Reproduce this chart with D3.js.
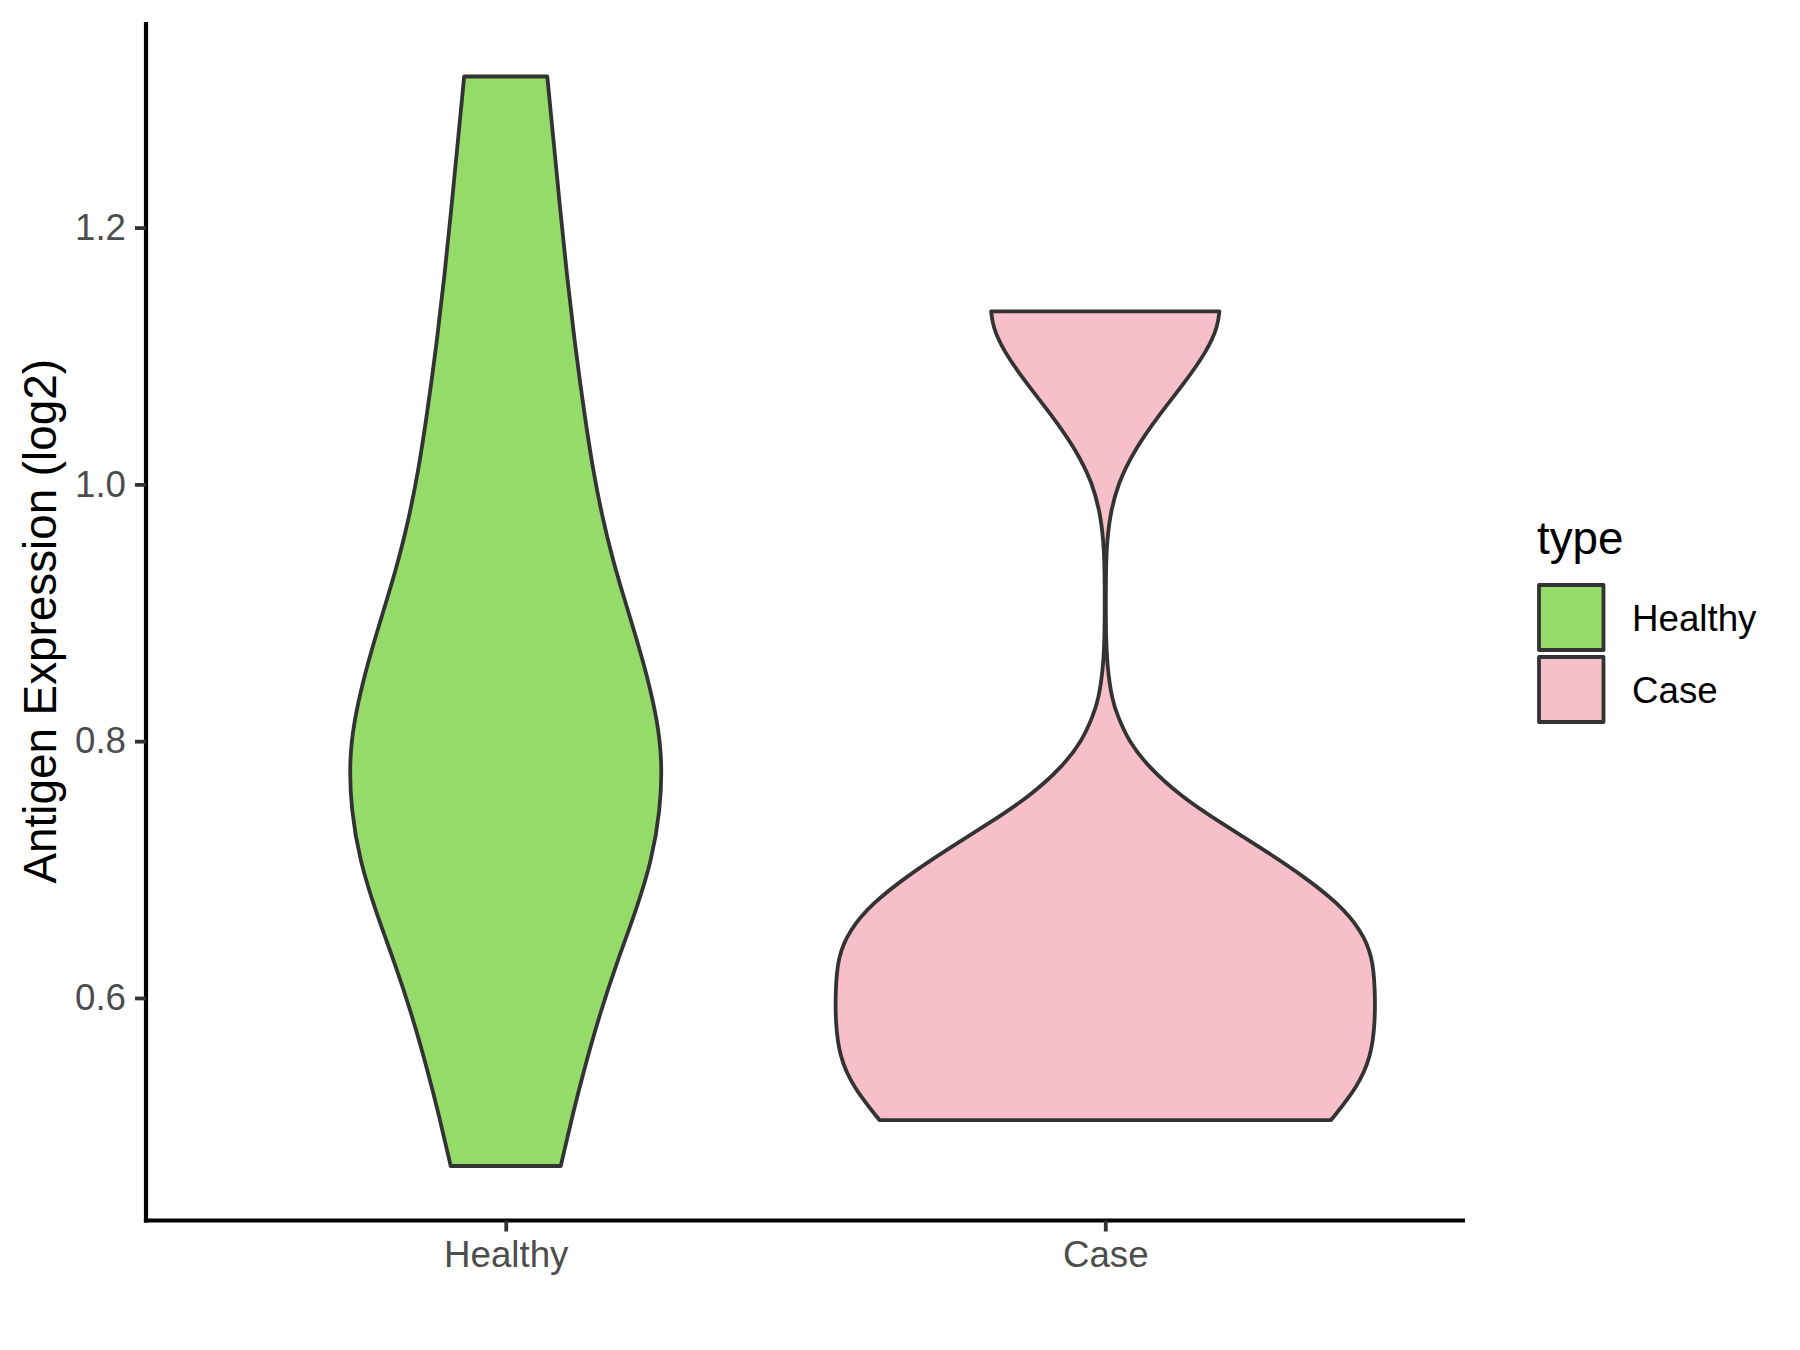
<!DOCTYPE html>
<html>
<head>
<meta charset="utf-8">
<script src="https://cdn.jsdelivr.net/npm/d3@7"></script>
<style>
  html, body { margin: 0; padding: 0; background: #ffffff; }
  svg { display: block; }
</style>
</head>
<body>
<svg id="chart" width="1800" height="1350"></svg>
<script>
// ---- Data ----
const categories = ["Healthy", "Case"];
const fillColors = ["#94DB6A", "#F7BFCA"];
const yTicks = [0.6, 0.8, 1.0, 1.2];

// Healthy violin profile: expression values and scaled density (violin width, 0-1)
const healthyValues = [1.3177, 1.2616, 1.2140, 1.1642, 1.1080, 1.0527, 1.0106, 0.9755, 0.9428, 0.9133, 0.8797,
  0.8485, 0.8160, 0.7849, 0.7460, 0.7070, 0.6668, 0.6282, 0.5892, 0.5448, 0.5083, 0.4691];
const healthyDensity = [0.154, 0.180, 0.202, 0.226, 0.257, 0.293, 0.324, 0.357, 0.395, 0.436, 0.485,
  0.527, 0.562, 0.580, 0.573, 0.541, 0.481, 0.413, 0.351, 0.291, 0.247, 0.204];

// Case violin profile
const caseValues = [1.1348, 1.1231, 1.1049, 1.0790, 1.0530, 1.0270, 1.0011, 0.9750, 0.9491, 0.9234, 0.8844,
  0.8581, 0.8322, 0.8192, 0.8010, 0.7802, 0.7569, 0.7361, 0.7153, 0.6945, 0.6738, 0.6530, 0.6322, 0.6062,
  0.5805, 0.5542, 0.5309, 0.5049];
const caseDensity = [0.423, 0.417, 0.380, 0.294, 0.195, 0.109, 0.047, 0.016, 0.004, 0.002, 0.002,
  0.007, 0.025, 0.047, 0.084, 0.158, 0.281, 0.430, 0.589, 0.737, 0.863, 0.948, 0.991, 1.000,
  1.000, 0.985, 0.936, 0.837];

const yTitle = "Antigen Expression (log2)";
const legendTitle = "type";

// ---- Layout ----
const FONT = "'Liberation Sans', Arial, Helvetica, sans-serif";
const panel = { left: 146, right: 1465, top: 22, bottom: 1220.5 };

const svg = d3.select("#chart");
svg.append("rect").attr("width", 1800).attr("height", 1350).attr("fill", "#ffffff");

const violins = [
  { name: categories[0], values: healthyValues, density: healthyDensity, fill: fillColors[0] },
  { name: categories[1], values: caseValues, density: caseDensity, fill: fillColors[1] }
];

// y domain: data range with 5% expansion (ggplot default)
const allVals = healthyValues.concat(caseValues);
const [vmin, vmax] = d3.extent(allVals);
const pad = (vmax - vmin) * 0.05;
const y = d3.scaleLinear().domain([vmin - pad, vmax + pad]).range([panel.bottom, panel.top]);

const x = d3.scalePoint().domain(categories).range([panel.left, panel.right]).padding(0.6);
const w = d3.scaleLinear().domain([0, 1]).range([0, x.step() * 0.45]);

// ---- Violins ----
violins.forEach(v => {
  const pts = v.values.map((val, i) => ({ val, d: v.density[i] }));
  const cx = x(v.name);
  const area = d3.area()
    .curve(d3.curveBasis)
    .y(p => y(p.val))
    .x0(p => cx - w(p.d))
    .x1(p => cx + w(p.d));
  svg.append("path")
    .datum(pts)
    .attr("d", area)
    .attr("fill", v.fill)
    .attr("stroke", "#333333")
    .attr("stroke-width", 3.8)
    .attr("stroke-linejoin", "round");
});

// ---- Axes ----
const yAxis = svg.append("g")
  .attr("transform", `translate(${panel.left},0)`)
  .call(d3.axisLeft(y).tickValues(yTicks).tickFormat(d3.format(".1f")).tickSize(11).tickSizeOuter(0).tickPadding(9));

const xAxis = svg.append("g")
  .attr("transform", `translate(0,${panel.bottom})`)
  .call(d3.axisBottom(x).tickSize(11).tickSizeOuter(0).tickPadding(9));

[yAxis, xAxis].forEach(g => {
  g.select(".domain").attr("stroke", "#000000").attr("stroke-width", 4.2);
  g.selectAll(".tick line").attr("stroke", "#333333").attr("stroke-width", 3.8);
  g.selectAll(".tick text")
    .attr("fill", "#4D4D4D")
    .style("font-family", FONT)
    .style("font-size", "36.7px");
});
// make axis lines span the full panel and meet at the corner
yAxis.select(".domain").attr("d", `M0,${panel.bottom + 2.1}V${panel.top}`);
xAxis.select(".domain").attr("d", `M${panel.left - 2.1},0H${panel.right}`);

// y axis title
svg.append("text")
  .attr("transform", `translate(56,${(panel.top + panel.bottom) / 2}) rotate(-90)`)
  .attr("text-anchor", "middle")
  .style("font-family", FONT)
  .style("font-size", "45.8px")
  .attr("fill", "#000000")
  .text(yTitle);

// ---- Legend ----
const legend = svg.append("g");
legend.append("text")
  .attr("x", 1537).attr("y", 554)
  .style("font-family", FONT).style("font-size", "45.8px")
  .attr("fill", "#000000")
  .text(legendTitle);

const keyTop = 582, keySize = 72;
violins.forEach((v, i) => {
  const ky = keyTop + i * keySize;
  legend.append("rect")
    .attr("x", 1539).attr("y", ky + 3)
    .attr("width", 64.5).attr("height", 65)
    .attr("fill", v.fill)
    .attr("stroke", "#333333")
    .attr("stroke-width", 3.8)
    .attr("stroke-linejoin", "round");
  legend.append("text")
    .attr("x", 1632).attr("y", ky + 35.5)
    .attr("dy", "0.36em")
    .style("font-family", FONT).style("font-size", "36.7px")
    .attr("fill", "#000000")
    .text(v.name);
});
</script>
</body>
</html>
